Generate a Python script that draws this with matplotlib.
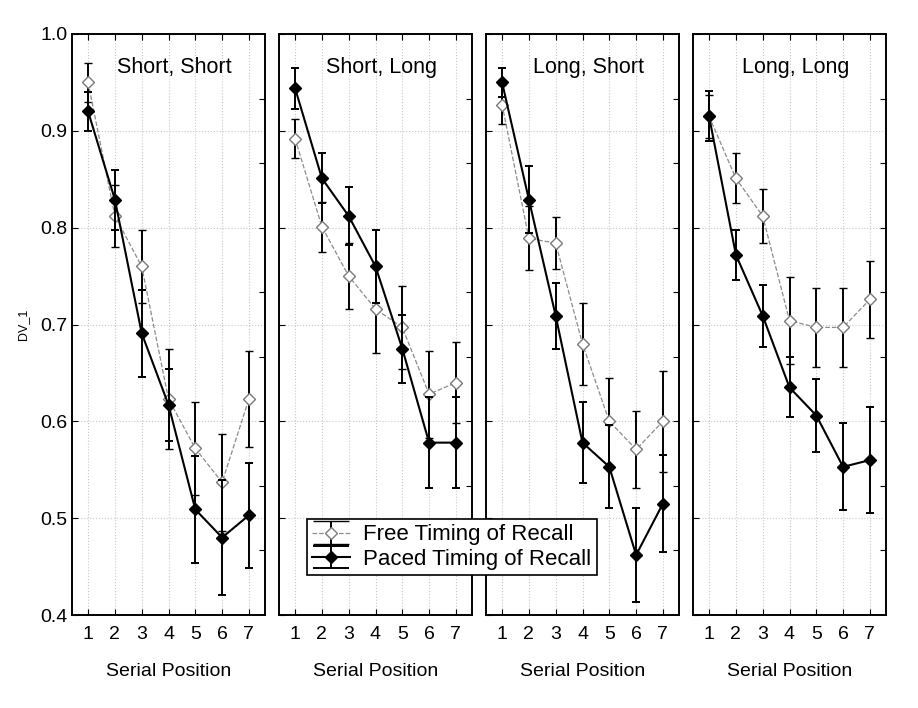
import numpy as np
import matplotlib
matplotlib.use("Agg")
import matplotlib.pyplot as plt

plt.rcParams['font.family'] = ['Liberation Sans', 'DejaVu Sans']

positions = [1, 2, 3, 4, 5, 6, 7]
panels = ["Short, Short", "Short, Long", "Long, Short", "Long, Long"]

# mean recall and error half-widths
free_mean = [
    [0.950, 0.812, 0.760, 0.623, 0.572, 0.537, 0.623],
    [0.892, 0.801, 0.750, 0.716, 0.697, 0.628, 0.640],
    [0.927, 0.789, 0.784, 0.680, 0.600, 0.571, 0.600],
    [0.915, 0.851, 0.812, 0.704, 0.697, 0.697, 0.726],
]
free_err = [
    [0.020, 0.032, 0.038, 0.052, 0.048, 0.050, 0.050],
    [0.020, 0.026, 0.034, 0.045, 0.043, 0.045, 0.042],
    [0.020, 0.033, 0.027, 0.042, 0.045, 0.040, 0.052],
    [0.022, 0.026, 0.028, 0.045, 0.041, 0.041, 0.040],
]
paced_mean = [
    [0.920, 0.829, 0.691, 0.617, 0.509, 0.480, 0.503],
    [0.944, 0.851, 0.812, 0.760, 0.675, 0.578, 0.578],
    [0.950, 0.829, 0.709, 0.578, 0.553, 0.462, 0.515],
    [0.915, 0.772, 0.709, 0.635, 0.606, 0.553, 0.560],
]
paced_err = [
    [0.020, 0.031, 0.045, 0.037, 0.055, 0.059, 0.054],
    [0.021, 0.026, 0.030, 0.038, 0.035, 0.047, 0.047],
    [0.015, 0.035, 0.034, 0.042, 0.043, 0.049, 0.050],
    [0.026, 0.026, 0.032, 0.031, 0.038, 0.045, 0.055],
]

free_style = dict(color='#8c8c8c', linestyle='--', linewidth=0.9,
                  marker='D', markersize=6, markerfacecolor='white',
                  markeredgecolor='#7a7a7a', markeredgewidth=1.0,
                  ecolor='black', elinewidth=1.4, capthick=1.4)
paced_style = dict(color='black', linestyle='-', linewidth=1.5,
                   marker='D', markersize=6, markerfacecolor='black',
                   markeredgecolor='black',
                   ecolor='black', elinewidth=1.4, capthick=1.4)

fig = plt.figure(figsize=(9.18, 7.08), dpi=100)

left = 72 / 918
width = 193 / 918
gap = 14 / 918
bottom = 1 - 615 / 708
height = (615 - 34) / 708

axes = []
for i, name in enumerate(panels):
    ax = fig.add_axes([left + i * (width + gap), bottom, width, height])
    axes.append(ax)
    ax.grid(True, color='#c8c8c8', linestyle=':', linewidth=0.8)
    ax.set_axisbelow(True)

    ax.errorbar(positions, free_mean[i], yerr=free_err[i], capsize=3,
                zorder=3, **free_style)
    ax.errorbar(positions, paced_mean[i], yerr=paced_err[i], capsize=3,
                zorder=4, **paced_style)

    ax.set_xlim(0.4, 7.6)
    ax.set_ylim(0.4, 1.0)
    ax.set_xticks(positions)
    ax.set_yticks([0.4, 0.5, 0.6, 0.7, 0.8, 0.9, 1.0])
    ax.tick_params(axis='x', direction='in', top=True, length=4, labelsize=14, pad=8)
    ax.tick_params(axis='y', direction='in', length=4, labelsize=14)
    if i > 0:
        ax.tick_params(axis='y', labelleft=False)
    else:
        ax.set_yticklabels(['0.4', '0.5', '0.6', '0.7', '0.8', '0.9', '1.0'])
        ax.set_ylabel('DV_1', fontsize=9, labelpad=8)

    # unlabeled right-hand scale, Statistica style
    rx = ax.twinx()
    rx.set_ylim(0.4, 1.0)
    rx.set_yticks(np.linspace(0.4, 1.0, 10)[1:-1])
    rx.tick_params(axis='y', direction='in', length=4, labelright=False)

    for a in (ax, rx):
        for s in a.spines.values():
            s.set_linewidth(1.2)

    ax.set_xlabel('Serial Position', fontsize=14, labelpad=14)
    ax.text(0.53, 0.943, name, transform=ax.transAxes, ha='center', va='center',
            fontsize=15.5)

# legend proxies with wide caps like the Statistica legend icons
nan = [np.nan]
p_free = axes[0].errorbar(nan, nan, yerr=nan, capsize=13, **free_style)
p_paced = axes[0].errorbar(nan, nan, yerr=nan, capsize=13, **paced_style)

leg = fig.legend([p_free, p_paced], ['Free Timing of Recall', 'Paced Timing of Recall'],
                 loc='center', bbox_to_anchor=(452 / 918, 1 - 547 / 708),
                 fontsize=16, frameon=True, fancybox=False, framealpha=1,
                 edgecolor='black', handlelength=1.7, borderpad=0.25,
                 labelspacing=0.15, handletextpad=0.6)
leg.get_frame().set_linewidth(1.2)

fig.savefig('out.png', dpi=100)
